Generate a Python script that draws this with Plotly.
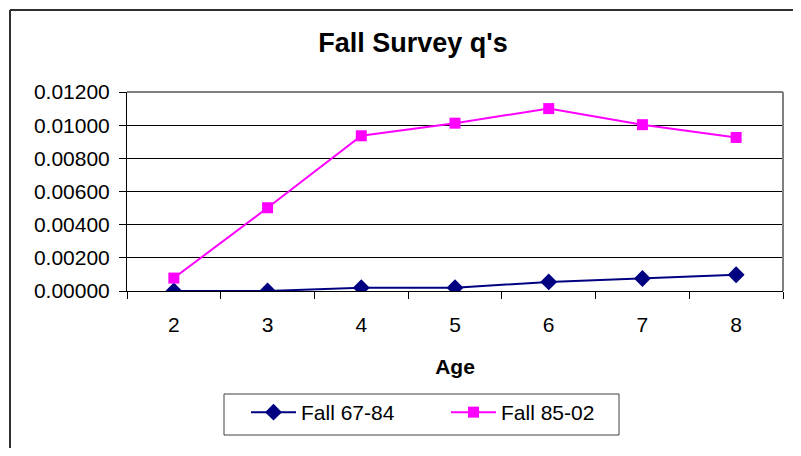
import plotly.graph_objects as go

ages = ["2", "3", "4", "5", "6", "7", "8"]
fall_67_84 = [0.00000, 0.00000, 0.00020, 0.00020, 0.00055, 0.00075, 0.00098]
fall_85_02 = [0.00078, 0.00502, 0.00936, 0.01012, 0.01100, 0.01003, 0.00926]
y_ticks = [0.0, 0.002, 0.004, 0.006, 0.008, 0.010, 0.012]

# page body has an 8px margin; figure is sized so the page fits the window
OFF = 8
W, H = 801 - 2 * OFF, 456 - 2 * OFF
L = 127 - OFF
T = 92 - OFF
R = W - (783 - OFF)
B = H - (291 - OFF)
pw, ph = W - L - R, H - T - B

def px_x(x):
    return (x - OFF - L) / pw

def px_y(y):
    return (H - B - (y - OFF)) / ph

FONT = "Arial, Liberation Sans, sans-serif"

fig = go.Figure()
fig.add_trace(go.Scatter(
    x=ages, y=fall_67_84, name="Fall 67-84", mode="lines+markers",
    line=dict(color="#000080", width=2),
    marker=dict(symbol="diamond", size=13, color="#000080"),
))
fig.add_trace(go.Scatter(
    x=ages, y=fall_85_02, name="Fall 85-02", mode="lines+markers",
    line=dict(color="#FF00FF", width=2),
    marker=dict(symbol="square", size=11, color="#FF00FF"),
))

fig.update_layout(
    width=W, height=H,
    margin=dict(l=L, r=R, t=T, b=B, autoexpand=False),
    paper_bgcolor="white", plot_bgcolor="white",
    font=dict(family=FONT, size=21, color="black"),
    title=dict(text="<b>Fall Survey q's</b>", x=(413 - OFF) / W, xanchor="center",
               y=1 - (43 - OFF) / H, yanchor="middle",
               font=dict(family=FONT, size=27, color="black")),
    showlegend=True,
    legend=dict(orientation="h", x=px_x(246), y=px_y(392), xanchor="left", yanchor="top",
                borderwidth=0, bgcolor="rgba(0,0,0,0)",
                font=dict(family=FONT, size=21), entrywidth=140, entrywidthmode="pixels",
                itemwidth=45),
    xaxis=dict(type="category", showgrid=False, showline=True, linecolor="black", linewidth=1,
               ticks="outside", ticklen=7, tickcolor="black", tickson="boundaries",
               tickfont=dict(family=FONT, size=21), automargin=False, ticklabelstandoff=15,
               title=dict(text="<b>Age</b>", font=dict(family=FONT, size=21), standoff=24),
               range=[-0.5, 6.5], mirror=False, zeroline=False),
    yaxis=dict(range=[0, 0.012], tickvals=y_ticks, tickformat=".5f", showgrid=True,
               gridcolor="black", gridwidth=1, showline=True, linecolor="black", linewidth=1,
               ticks="outside", ticklen=7, tickcolor="black", zeroline=False, automargin=False,
               tickfont=dict(family=FONT, size=21), ticklabelstandoff=5),
    shapes=[
        dict(type="line", xref="paper", yref="paper", x0=0, x1=1, y0=1, y1=1,
             line=dict(color="#808080", width=2)),
        dict(type="line", xref="paper", yref="paper", x0=1, x1=1, y0=0, y1=1,
             line=dict(color="#808080", width=2)),
        # outer chart-area border: only its left and top edges are inside the picture
        dict(type="line", xref="paper", yref="paper",
             x0=px_x(10), x1=px_x(10), y0=px_y(10), y1=px_y(460),
             line=dict(color="#303030", width=2)),
        dict(type="line", xref="paper", yref="paper",
             x0=px_x(10), x1=px_x(810), y0=px_y(10), y1=px_y(10),
             line=dict(color="#303030", width=2)),
        dict(type="rect", xref="paper", yref="paper",
             x0=px_x(224), x1=px_x(619), y0=px_y(394), y1=px_y(435),
             line=dict(color="#404040", width=1), fillcolor="rgba(0,0,0,0)", layer="below"),
    ],
)

fig.write_html("out.html")
